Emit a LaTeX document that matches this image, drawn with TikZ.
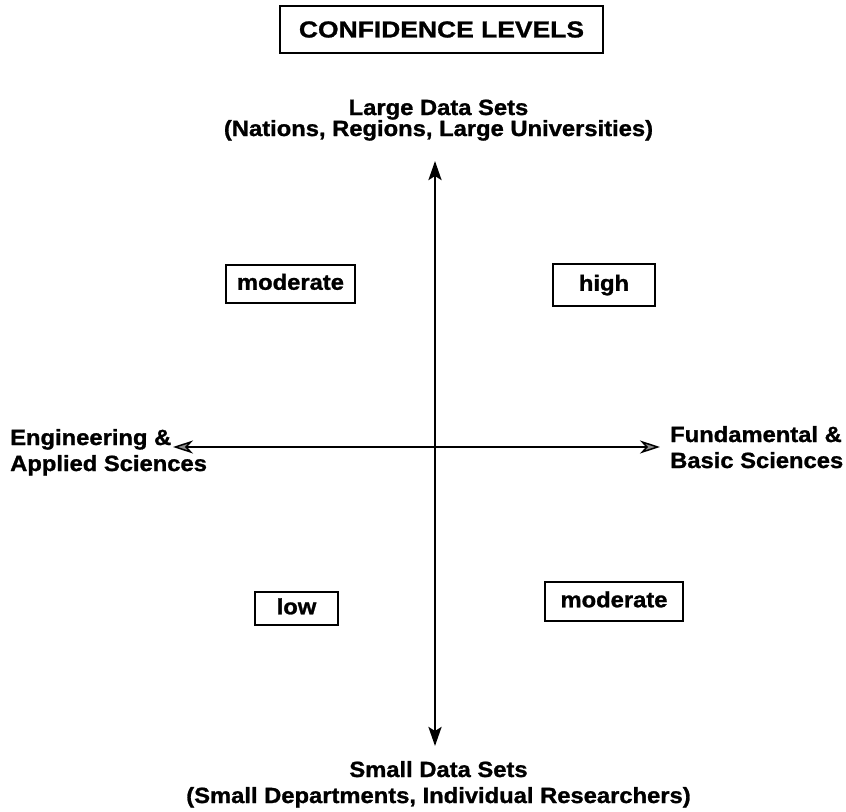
\documentclass[tikz,border=0pt]{standalone}
\usepackage{fontspec}
\newfontfamily\labfont[FakeStretch=1.08,FakeBold=1.2]{Liberation Sans Bold}
\newfontfamily\headfont[FakeStretch=1.15,FakeBold=1.2]{Liberation Sans Bold}
\usetikzlibrary{arrows.meta}
\begin{document}
\begin{tikzpicture}[x=1bp,y=-1bp,
  lbl/.style={font=\labfont\fontsize{22bp}{26bp}\selectfont, inner sep=0pt, anchor=base},
  lblw/.style={lbl, anchor=base west},
  levelbox/.style={draw, line width=1.8bp, inner sep=0pt,
    font=\labfont\fontsize{22bp}{26bp}\selectfont, text height=16bp, text depth=4.5bp},
  vaxis/.style={line width=2.8bp, {Stealth[length=19bp,width=13bp,inset=4bp]}-{Stealth[length=19bp,width=13bp,inset=4bp]}},
  haxis/.style={line width=1.5bp, {Stealth[length=20bp,width=13bp,inset=6bp,open,fill=black!45]}-{Stealth[length=20bp,width=13bp,inset=6bp,open,fill=black!45]}}
]
\useasboundingbox (0,0) rectangle (846,812);

% heading
\node[draw, line width=1.8bp, inner sep=0pt, minimum width=323bp, minimum height=47bp,
  font=\headfont\fontsize{23bp}{26bp}\selectfont] (title) at (441.5,29.5) {CONFIDENCE LEVELS};

% axis ends
\coordinate (ytop) at (435,161);
\coordinate (ybot) at (435,746);
\coordinate (xleft) at (173,447);
\coordinate (xright) at (660,447);

\draw[haxis] (xleft) -- (xright);
\draw[vaxis] (ybot) -- (ytop);

% axis labels
\node[lbl] (top1) at (438.5,115) {Large Data Sets};
\node[lbl] (top2) at (438.5,136) {(Nations, Regions, Large Universities)};
\node[lbl] (bot1) at (438.5,777) {Small Data Sets};
\node[lbl] (bot2) at (438.5,803) {(Small Departments, Individual Researchers)};
\node[lblw] (left1) at (10,445) {Engineering \&};
\node[lblw] (left2) at (10,471) {Applied Sciences};
\node[lblw] (right1) at (670,442) {Fundamental \&};
\node[lblw] (right2) at (670,468) {Basic Sciences};

% quadrant levels
\node[levelbox, minimum width=129bp, minimum height=38bp] (modUL) at (290.5,284) {moderate};
\node[levelbox, minimum width=102bp, minimum height=42bp] (high) at (604,285) {high};
\node[levelbox, minimum width=83bp, minimum height=33bp] (low) at (296.5,608.5) {low};
\node[levelbox, minimum width=138bp, minimum height=39bp] (modLR) at (614,601.5) {moderate};
\end{tikzpicture}
\end{document}
